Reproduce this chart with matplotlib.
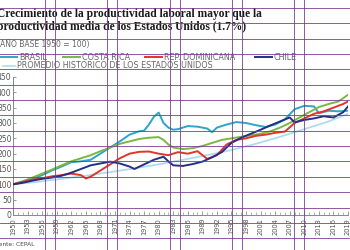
import matplotlib
matplotlib.use('Agg')
import matplotlib.pyplot as plt
from matplotlib.lines import Line2D
from matplotlib.ticker import MultipleLocator

# ---------------- data ----------------
brasil_years = [1950, 1952, 1954, 1956, 1958, 1960, 1962, 1964, 1966, 1968, 1970, 1972, 1974, 1976,
                1977, 1978, 1979, 1980, 1981, 1982, 1983, 1984, 1986, 1988, 1990, 1991, 1992, 1994,
                1996, 1998, 2000, 2002, 2004, 2006, 2008, 2010, 2012, 2013, 2015, 2017, 2019]
brasil = [100, 108, 118, 130, 145, 158, 172, 175, 180, 200, 220, 240, 262, 273,
          275, 295, 320, 334, 300, 285, 278, 280, 290, 288, 282, 270, 285, 295,
          303, 300, 293, 287, 295, 312, 345, 356, 354, 332, 340, 338, 340]

costa_years = [1950, 1952, 1954, 1956, 1958, 1960, 1962, 1964, 1966, 1968, 1970, 1972, 1974, 1976,
               1978, 1980, 1981, 1982, 1983, 1985, 1987, 1989, 1991, 1993, 1995, 1997, 1999, 2001,
               2003, 2005, 2007, 2009, 2011, 2013, 2015, 2017, 2019]
costa_rica = [100, 110, 122, 135, 148, 162, 175, 185, 195, 208, 220, 232, 240, 248,
              252, 254, 245, 230, 220, 215, 218, 225, 235, 245, 250, 255, 260, 265,
              273, 285, 300, 318, 335, 352, 362, 370, 392]

rd_years = [1950, 1952, 1954, 1956, 1958, 1960, 1962, 1964, 1965, 1966, 1968, 1970, 1972, 1974,
            1976, 1978, 1980, 1982, 1984, 1986, 1988, 1990, 1992, 1994, 1996, 1998, 2000, 2002,
            2004, 2006, 2008, 2010, 2012, 2014, 2016, 2018, 2019]
rep_dominicana = [100, 108, 115, 120, 126, 130, 135, 130, 119, 125, 145, 165, 185, 200,
                  206, 207, 200, 195, 205, 200, 208, 183, 195, 230, 245, 250, 258, 262,
                  268, 272, 300, 315, 330, 338, 350, 362, 370]

chile_years = [1950, 1952, 1954, 1956, 1958, 1960, 1962, 1964, 1966, 1968, 1970, 1972, 1974, 1975,
               1977, 1979, 1981, 1982, 1983, 1985, 1987, 1989, 1991, 1993, 1995, 1997, 1999, 2001,
               2003, 2005, 2007, 2008, 2010, 2012, 2014, 2016, 2018, 2019]
chile = [100, 105, 112, 118, 122, 128, 138, 150, 162, 168, 174, 168, 158, 150,
         165, 180, 190, 175, 162, 160, 166, 174, 188, 205, 235, 252, 265, 278,
         292, 305, 318, 302, 310, 315, 322, 318, 335, 354]

eeuu_years = [1950, 1955, 1960, 1965, 1970, 1975, 1980, 1985, 1990, 1995, 2000, 2005, 2010, 2015, 2019]
eeuu_promedio = [100, 108, 118, 128, 140, 152, 165, 180, 195, 212, 232, 255, 280, 305, 330]

x_ticks = list(range(1950, 2020, 3))
y_ticks = [0, 50, 100, 150, 200, 250, 300, 350, 400, 450]

series = [
    ("BRASIL", brasil_years, brasil, "#2ba6c8"),
    ("COSTA RICA", costa_years, costa_rica, "#7bb843"),
    ("REP. DOMINICANA", rd_years, rep_dominicana, "#e2342a"),
    ("CHILE", chile_years, chile, "#252f85"),
]
eeuu_label = "PROMEDIO HISTORICO DE LOS ESTADOS UNIDOS"
eeuu_color = "#aedbef"

# ---------------- figure ----------------
W, H = 350, 250
fig = plt.figure(figsize=(W / 100, H / 100), dpi=100)
fig.patch.set_facecolor("white")

def fx(px):
    return px / W

def fy(py):
    return 1 - py / H

ax = fig.add_axes([fx(13), fy(215), fx(335), 138 / H])
ax.plot(eeuu_years, eeuu_promedio, color=eeuu_color, lw=1.3, zorder=2)
for name, xs, ys, col in series:
    ax.plot(xs, ys, color=col, lw=1.4, zorder=3)

ax.set_xlim(1950, 2019)
ax.set_ylim(0, 450)
ax.set_xticks(x_ticks)
ax.set_xticklabels([str(t) for t in x_ticks], rotation=90, fontsize=4.8, color="#555555",
                   family="Liberation Sans Narrow")
ax.xaxis.set_minor_locator(MultipleLocator(1))
ax.set_yticks(y_ticks)
ax.set_yticklabels([str(t) for t in y_ticks], fontsize=5.5, color="#555555",
                   family="Liberation Sans Narrow")
ax.tick_params(axis="x", which="major", length=3, width=0.5, color="#777777", pad=2, direction="in")
ax.tick_params(axis="x", which="minor", length=2, width=0.4, color="#777777", direction="in")
ax.tick_params(axis="y", length=2, width=0.5, color="#777777", pad=1, direction="in")
for s in ["top", "right"]:
    ax.spines[s].set_visible(False)
for s in ["left", "bottom"]:
    ax.spines[s].set_color("#888888")
    ax.spines[s].set_linewidth(0.7)
ax.set_facecolor("white")

# ---------------- titles ----------------
fig.text(fx(-3), fy(14), "Crecimiento de la productividad laboral mayor que la",
         family="Liberation Serif", fontweight="bold", fontsize=8.3, color="#1a1a1a", va="center")
fig.text(fx(-3), fy(27), "productividad media de los Estados Unidos (1.7%)",
         family="Liberation Serif", fontweight="bold", fontsize=8.3, color="#1a1a1a", va="center")
fig.text(fx(-3), fy(45), "(AÑO BASE 1950 = 100)", family="Liberation Sans Narrow",
         fontsize=5.5, color="#666666", va="center")

# ---------------- legend ----------------
leg_pos = [(0, 57), (63, 57), (145, 57), (255, 57)]
for (name, xs, ys, col), (lx, ly) in zip(series, leg_pos):
    fig.add_artist(Line2D([fx(lx), fx(lx + 17)], [fy(ly), fy(ly)], color=col, lw=1.4,
                          transform=fig.transFigure))
    fig.text(fx(lx + 19), fy(ly), name, family="Liberation Sans Narrow", fontsize=5.8,
             color="#666666", va="center")
fig.add_artist(Line2D([fx(3), fx(15)], [fy(66), fy(66)], color=eeuu_color, lw=1.2,
                      transform=fig.transFigure))
fig.text(fx(17), fy(66), eeuu_label, family="Liberation Sans Narrow", fontsize=5.8,
         color="#666666", va="center")

fig.text(fx(-8), fy(244), "Fuente: CEPAL", family="Liberation Sans Narrow", fontsize=4.2,
         color="#444444", va="center")

# ---------------- page-layout guides visible in the reference ----------------
guide = "#7a3b8c"
for gx in [45, 55, 107, 117, 170, 180, 232, 242, 294, 304]:
    fig.add_artist(Line2D([fx(gx), fx(gx)], [0, 1], color=guide, lw=0.7, alpha=0.85,
                          transform=fig.transFigure, zorder=10))
gy = 8.0
while gy < H:
    fig.add_artist(Line2D([0, 1], [fy(gy), fy(gy)], color=guide, lw=0.7, alpha=0.85,
                          transform=fig.transFigure, zorder=10))
    gy += 15.35

fig.savefig("out.png", dpi=100, facecolor="white")
